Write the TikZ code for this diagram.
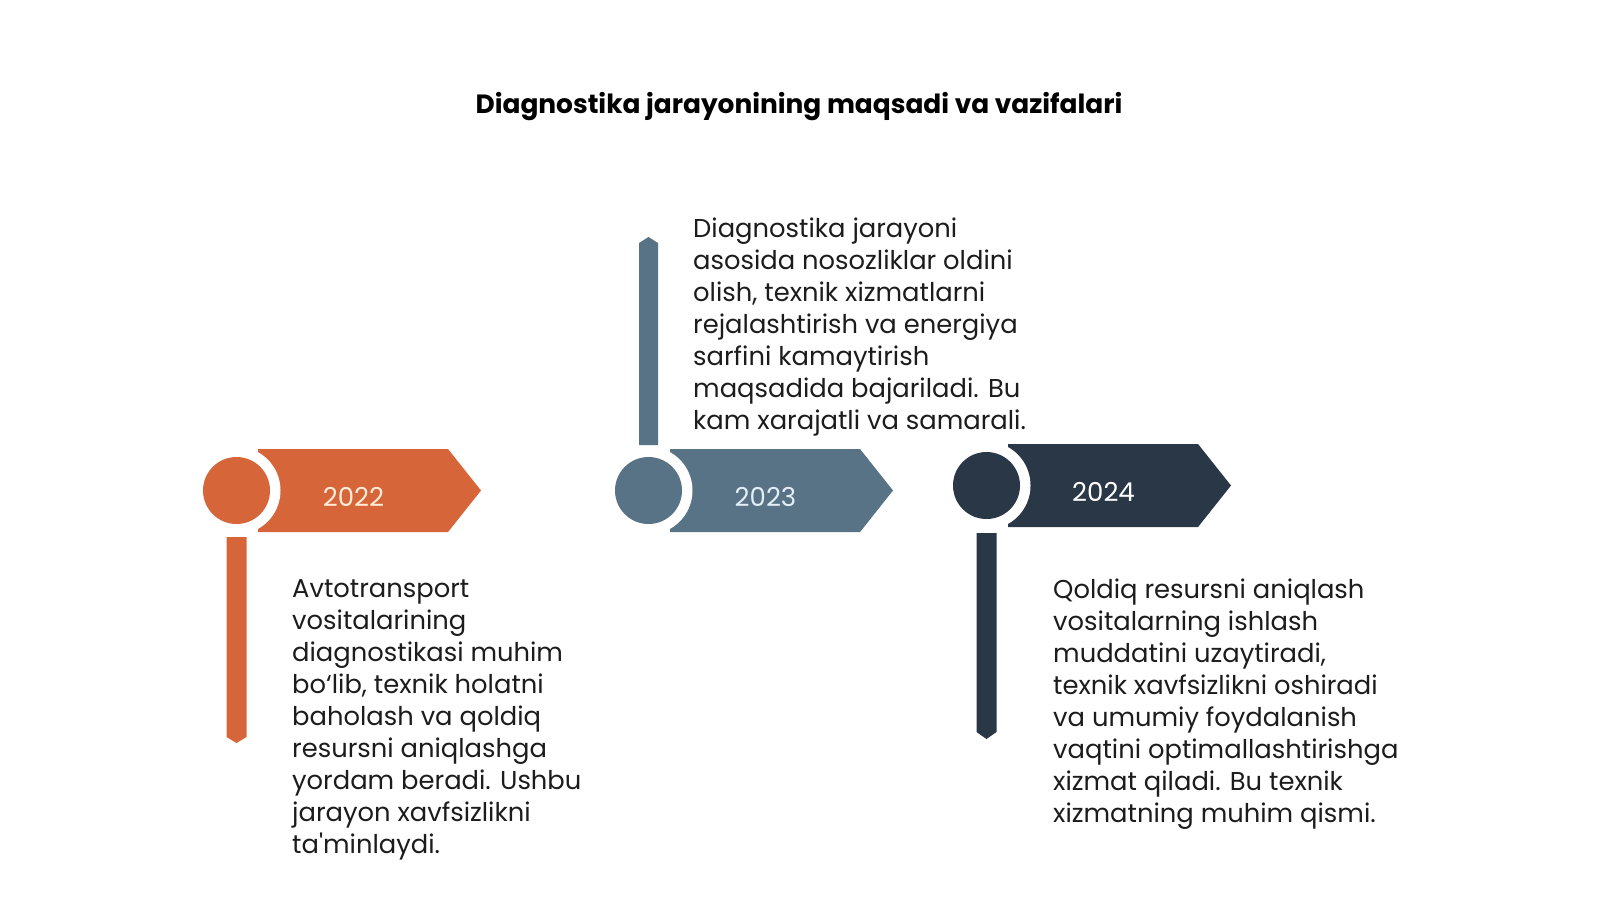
\documentclass[tikz,border=0pt]{standalone}
\usepackage{fontspec}
\setmainfont{Poppins}
\begin{document}
\begin{tikzpicture}[x=1pt,y=-1pt]
% Colors
\definecolor{orangeColor}{RGB}{215,101,58}
\definecolor{slateColor}{RGB}{88,114,134}
\definecolor{navyColor}{RGB}{42,55,71}
\definecolor{inkColor}{RGB}{28,28,28}
\tikzset{
  yearlabel/.style={font=\fontsize{26}{26}\selectfont, inner sep=0pt},
  bodytext/.style={font=\fontsize{25.8}{32}\selectfont, align=left, anchor=base west, inner sep=0pt, text=inkColor},
}
\useasboundingbox (0,0) rectangle (1600,900);
% Title
\node[font=\bfseries\fontsize{26.4}{26}\selectfont, text=black] (title) at (799,107) {Diagnostika jarayonining maqsadi va vazifalari};
% 2022
\begin{scope}[shift={(236.5,490.5)}, orangeColor]
	\fill ( 21.5,-41.5) -- (211.5,-41.5) -- (244.5,0) % arrow
	  -- (211.5, 41.5) -- ( 21.5, 41.5) -- cycle;
	\fill[white] (0,0) circle (44);   % ring
	\fill (0,0) circle (33.5);        % dot
	\fill (-10,46.5) -- (10,46.5) -- (10,246.5) % stem
	  -- (0,252.5) -- (-10,246.5) -- cycle;
	\node[yearlabel, text={rgb,255:red,255;green,236;blue,214}] (y2022) at (117,6.5) {2022};
\end{scope}
% 2023
\begin{scope}[shift={(648.5,490.5)}, slateColor]
	\fill ( 21.5,-41.5) -- (211.5,-41.5) -- (244.5,0) % arrow
	  -- (211.5, 41.5) -- ( 21.5, 41.5) -- cycle;
	\fill[white] (0,0) circle (44);   % ring
	\fill (0,0) circle (33.5);        % dot
	\fill (-9.5,-45.5) -- (9.5,-45.5) -- (9.5,-247.5) % stem
	  -- (0,-253.5) -- (-9.5,-247.5) -- cycle;
	\node[yearlabel, text={rgb,255:red,228;green,238;blue,246}] (y2023) at (117,6.5) {2023};
\end{scope}
% 2024
\begin{scope}[shift={(986.5,485.5)}, navyColor]
	\fill ( 21.5,-41.5) -- (211.5,-41.5) -- (244.5,0) % arrow
	  -- (211.5, 41.5) -- ( 21.5, 41.5) -- cycle;
	\fill[white] (0,0) circle (44);   % ring
	\fill (0,0) circle (33.5);        % dot
	\fill (-10,47.5) -- (10,47.5) -- (10,246.5) % stem
	  -- (0,253.5) -- (-10,246.5) -- cycle;
	\node[yearlabel, text=white] (y2024) at (117,6.5) {2024};
\end{scope}
% Texts (anchored at the last line)
\node[bodytext] (txt2022) at (292,853) {Avtotransport\\vositalarining\\diagnostikasi muhim\\bo‘lib, texnik holatni\\baholash va qoldiq\\resursni aniqlashga\\yordam beradi. Ushbu\\jarayon xavfsizlikni\\ta\textquotesingle minlaydi.};
\node[bodytext] (txt2023) at (693,429) {Diagnostika jarayoni\\asosida nosozliklar oldini\\olish, texnik xizmatlarni\\rejalashtirish va energiya\\sarfini kamaytirish\\maqsadida bajariladi. Bu\\kam xarajatli va samarali.};
\node[bodytext] (txt2024) at (1053,822) {Qoldiq resursni aniqlash\\vositalarning ishlash\\muddatini uzaytiradi,\\texnik xavfsizlikni oshiradi\\va umumiy foydalanish\\vaqtini optimallashtirishga\\xizmat qiladi. Bu texnik\\xizmatning muhim qismi.};
\end{tikzpicture}
\end{document}
